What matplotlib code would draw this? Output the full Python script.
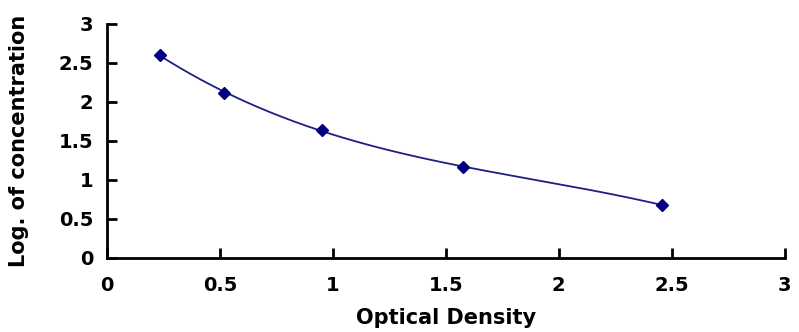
import numpy as np
import matplotlib
matplotlib.use('Agg')
import matplotlib.pyplot as plt

plt.rcParams['font.family'] = ['DejaVu Sans']
plt.rcParams['font.weight'] = 'bold'

# standard curve points
od = [0.234, 0.518, 0.952, 1.576, 2.456]
log_conc = [2.60, 2.115, 1.64, 1.167, 0.68]

x_ticks = [0, 0.5, 1, 1.5, 2, 2.5, 3]
y_ticks = [0, 0.5, 1, 1.5, 2, 2.5, 3]
x_labels = ['0', '0.5', '1', '1.5', '2', '2.5', '3']
y_labels = ['0', '0.5', '1', '1.5', '2', '2.5', '3']

# smooth trend line through the points
coef = np.polyfit(od, log_conc, 3)
xs = np.linspace(min(od), max(od), 200)
ys = np.polyval(coef, xs)

fig = plt.figure(figsize=(7.99, 3.32), dpi=100)
ax = fig.add_axes([0.134, 0.223, 0.848, 0.705])

ax.plot(xs, ys, color='#1f1f85', lw=1.3)
ax.plot(od, log_conc, linestyle='none', marker='D', markersize=6.5,
        color='#000080')

ax.set_xlim(0, 3)
ax.set_ylim(0, 3)
ax.set_xticks(x_ticks)
ax.set_xticklabels(x_labels)
ax.set_yticks(y_ticks)
ax.set_yticklabels(y_labels)

for s in ['top', 'right']:
    ax.spines[s].set_visible(False)
for s in ['left', 'bottom']:
    ax.spines[s].set_linewidth(2)

ax.tick_params(direction='in', length=7, width=2, labelsize=14)
ax.tick_params(axis='y', pad=10)
ax.tick_params(axis='x', pad=13)

ax.set_xlabel('Optical Density', fontsize=15, fontweight='bold', labelpad=9)
ax.set_ylabel('Log. of concentration', fontsize=15, fontweight='bold', labelpad=21)

fig.savefig('out.png', dpi=100)
